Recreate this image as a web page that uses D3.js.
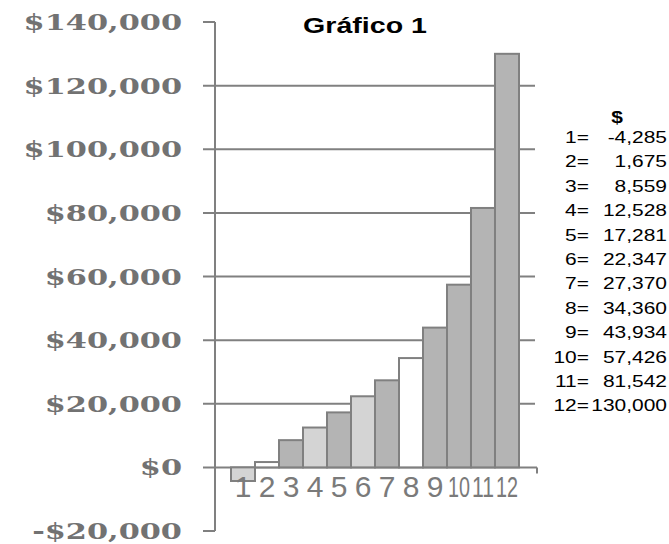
<!DOCTYPE html>
<html lang="es">
<head>
    <meta charset="utf-8">
    <script src="https://d3js.org/d3.v7.min.js"></script>
</head>
<body style="margin:0;background:#fff">
<style>
    svg text { cursor: default; user-select: none; }
</style>

<svg width="669" height="544"></svg>

<script>
// data
var periods = ["1", "2", "3", "4", "5", "6", "7", "8", "9", "10", "11", "12"];
var values = [-4285, 1675, 8559, 12528, 17281, 22347, 27370, 34360, 43934, 57426, 81542, 130000];
var yTicks = [-20000, 0, 20000, 40000, 60000, 80000, 100000, 120000, 140000];
var legendLabels = ["1=", "2=", "3=", "4=", "5=", "6=", "7=", "8=", "9=", "10=", "11=", "12="];
var legendValues = ["-4,285", "1,675", "8,559", "12,528", "17,281", "22,347", "27,370", "34,360", "43,934", "57,426", "81,542", "130,000"];

// bar shading in the original (light / white / mid grey)
var shade = ["#d4d4d4", "#ffffff", "#b4b4b4", "#d4d4d4", "#b4b4b4", "#d4d4d4", "#b4b4b4", "#ffffff",
    "#b4b4b4", "#b4b4b4", "#b4b4b4", "#b4b4b4"];

var svg = d3.select("svg");
var axisGrey = "#808080";

var x = d3.scaleBand().domain(periods).range([215, 535]).paddingInner(0).paddingOuter(0.667);
var y = d3.scaleLinear().domain([-20000, 140000]).range([531, 22]);

// grid + ticks
var grid = svg.append("g").attr("stroke", axisGrey).attr("stroke-width", 2);
grid.selectAll("line.grid")
    .data(yTicks)
    .enter().append("line")
    .attr("x1", 203)
    .attr("x2", d => (d === 140000 || d === -20000) ? 215 : (d === 0 ? 537 : 535))
    .attr("y1", d => y(d)).attr("y2", d => y(d));
// little tick at the end of the zero line
grid.append("line").attr("x1", 537).attr("x2", 537).attr("y1", y(0)).attr("y2", y(0) + 6);

// bars
svg.append("g").selectAll("rect")
    .data(values)
    .enter().append("rect")
    .attr("x", (d, i) => x(periods[i]))
    .attr("width", x.bandwidth())
    .attr("y", d => y(Math.max(0, d)))
    .attr("height", d => Math.abs(y(d) - y(0)))
    .attr("fill", (d, i) => shade[i])
    .attr("stroke", axisGrey)
    .attr("stroke-width", 2);

// y axis line
svg.append("line")
    .attr("x1", 215).attr("x2", 215)
    .attr("y1", y(140000)).attr("y2", y(-20000))
    .attr("stroke", axisGrey).attr("stroke-width", 2);

// y labels (wide bold serif, stretched)
var fmt = d => (d < 0 ? "-" : "") + "$" + d3.format(",")(Math.abs(d));
svg.append("g").selectAll("text")
    .data(yTicks)
    .enter().append("text")
    .attr("transform", d => `translate(182, ${y(d) + 8}) scale(1.32, 1)`)
    .attr("text-anchor", "end")
    .attr("font-family", "DejaVu Serif")
    .attr("font-weight", "bold")
    .attr("font-size", 23)
    .attr("fill", "#727272")
    .text(fmt);

// x labels, squeezed into the band when too wide
svg.append("g").selectAll("text")
    .data(periods)
    .enter().append("text")
    .attr("text-anchor", "middle")
    .attr("font-family", "Liberation Sans, Arial, sans-serif")
    .attr("font-size", 30)
    .attr("fill", "#7a7a7a")
    .text(d => d)
    .each(function(d) {
        var w = this.getComputedTextLength();
        var sx = Math.min(1, (x.bandwidth() - 2) / w);
        d3.select(this).attr("transform", `translate(${x(d) + x.bandwidth() / 2}, 497) scale(${sx}, 1)`);
    });

// title
svg.append("text")
    .attr("transform", "translate(365, 33) scale(1.3, 1)")
    .attr("text-anchor", "middle")
    .attr("font-family", "Liberation Sans, Arial, sans-serif")
    .attr("font-weight", "bold")
    .attr("font-size", 22)
    .text("Gráfico 1");

// legend on the right
svg.append("text")
    .attr("transform", "translate(617, 123) scale(1.27, 1)")
    .attr("text-anchor", "middle")
    .attr("font-family", "Liberation Sans, Arial, sans-serif")
    .attr("font-weight", "bold")
    .attr("font-size", 16.5)
    .text("$");

var legend = svg.append("g")
    .attr("font-family", "Liberation Sans, Arial, sans-serif")
    .attr("font-size", 16.5)
    .attr("fill", "#000");
legendLabels.forEach(function(lab, i) {
    var yy = 143 + i * 24.4;
    legend.append("text")
        .attr("transform", `translate(589, ${yy}) scale(1.27, 1)`)
        .attr("text-anchor", "end")
        .text(lab);
    legend.append("text")
        .attr("transform", `translate(667, ${yy}) scale(1.27, 1)`)
        .attr("text-anchor", "end")
        .text(legendValues[i]);
});
</script>
</body>
</html>
